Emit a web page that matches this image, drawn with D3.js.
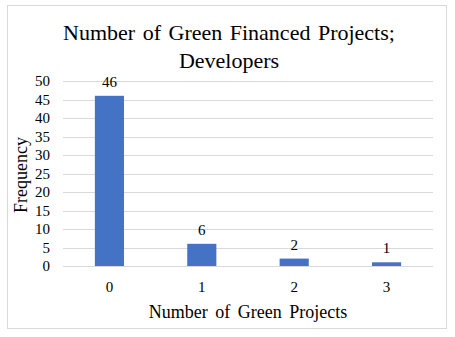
<!DOCTYPE html>
<html><head><meta charset="utf-8">
<script src="https://cdn.jsdelivr.net/npm/d3@7"></script>
<style>
html,body{margin:0;padding:0;background:#fff;}
</style>
</head><body>
<script>
const categories = ["0", "1", "2", "3"];
const values = [46, 6, 2, 1];
const yTicks = [0, 5, 10, 15, 20, 25, 30, 35, 40, 45, 50];
const titleLines = ["Number of Green Financed Projects;", "Developers"];
const xTitle = "Number of Green Projects";
const yTitle = "Frequency";

const W = 455, H = 337;
const font = "Liberation Serif";
const svg = d3.select("body").append("svg").attr("width", W).attr("height", H)
  .style("display", "block");
svg.append("rect").attr("x", 7.5).attr("y", 5.5).attr("width", 439).attr("height", 323)
  .attr("fill", "#fff").attr("stroke", "#D9D9D9").attr("stroke-width", 1);

const m = {left: 63, right: 433, top: 81, bottom: 266};
const x = d3.scaleBand().domain(categories).range([m.left, m.right]).paddingInner(0.685).paddingOuter(0.345);
const y = d3.scaleLinear().domain([0, 50]).range([m.bottom, m.top]);

svg.append("g").selectAll("line").data(yTicks).join("line")
  .attr("x1", m.left).attr("x2", m.right)
  .attr("y1", d => Math.round(y(d)) + 0.5).attr("y2", d => Math.round(y(d)) + 0.5)
  .attr("stroke", "#D9D9D9").attr("stroke-width", 1);

const yAxis = d3.axisLeft(y).tickValues(yTicks).tickSize(0).tickPadding(13);
const ya = svg.append("g").attr("transform", `translate(${m.left},0)`).call(yAxis)
  .attr("font-family", font);
ya.select(".domain").remove();
ya.selectAll("text").attr("font-family", font).attr("font-size", 15).attr("fill", "#000");

const xAxis = d3.axisBottom(x).tickSize(0).tickPadding(15);
const xa = svg.append("g").attr("transform", `translate(0,${m.bottom})`).call(xAxis)
  .attr("font-family", font);
xa.select(".domain").remove();
xa.selectAll("text").attr("font-family", font).attr("font-size", 15).attr("fill", "#000");

svg.append("g").selectAll("rect").data(values).join("rect")
  .attr("x", (d, i) => x(categories[i])).attr("width", x.bandwidth())
  .attr("y", d => y(d)).attr("height", d => y(0) - y(d))
  .attr("fill", "#4472C4");

svg.append("g").selectAll("text").data(values).join("text")
  .attr("x", (d, i) => x(categories[i]) + x.bandwidth() / 2)
  .attr("y", d => y(d) - 9)
  .attr("text-anchor", "middle").attr("font-family", font).attr("font-size", 15)
  .attr("fill", "#000").text(d => d);

svg.append("g").selectAll("text").data(titleLines).join("text")
  .attr("x", 229).attr("y", (d, i) => 40 + i * 28)
  .attr("text-anchor", "middle").attr("font-family", font).attr("font-size", 22)
  .attr("word-spacing", 2)
  .attr("fill", "#000").text(d => d);

svg.append("text").attr("x", 248).attr("y", 318).attr("text-anchor", "middle")
  .attr("font-family", font).attr("font-size", 18).attr("word-spacing", 3)
  .attr("fill", "#000").text(xTitle);

svg.append("text").attr("transform", "translate(27,175) rotate(-90)").attr("text-anchor", "middle")
  .attr("font-family", font).attr("font-size", 18).attr("fill", "#000").text(yTitle);
</script>
</body></html>
